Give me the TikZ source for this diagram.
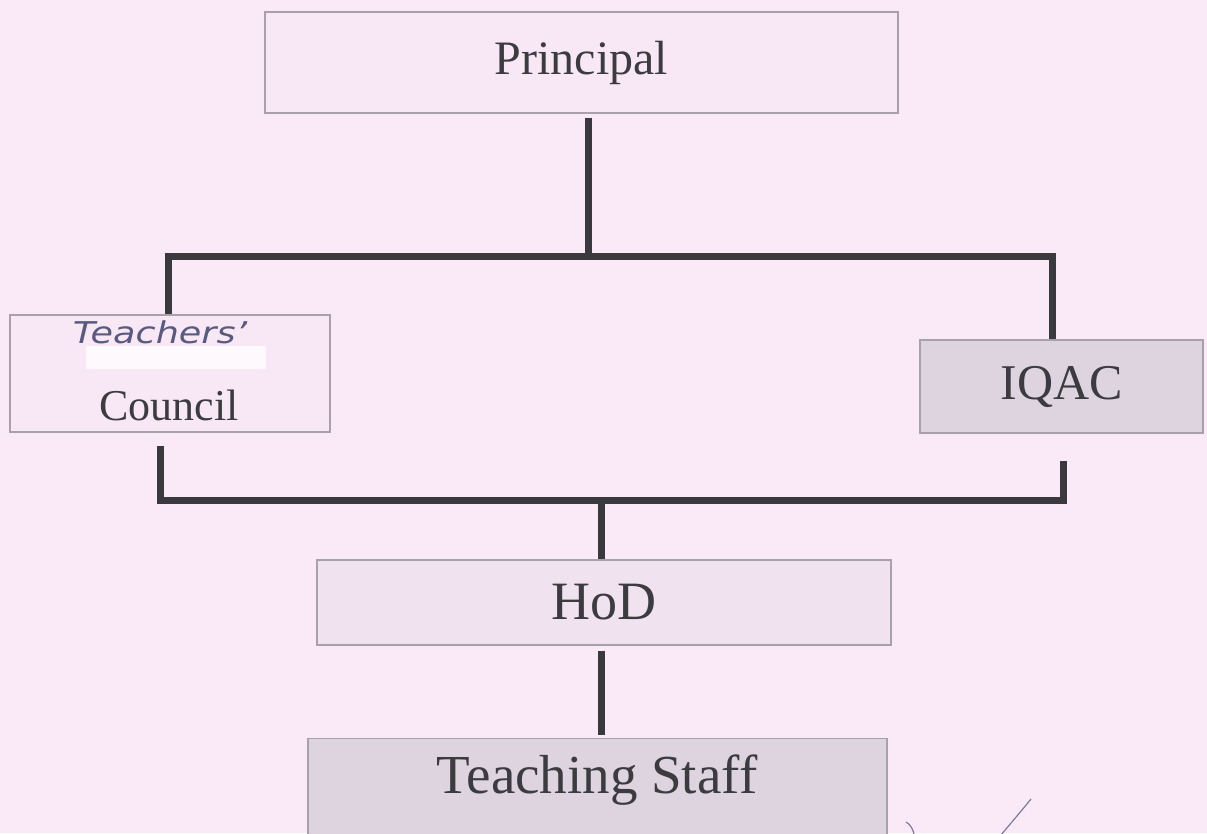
\documentclass[tikz,border=0pt]{standalone}
\usepackage{fontspec}
\setmainfont{Liberation Serif}
\newfontfamily\handfont{DejaVu Sans}
\begin{document}
\begin{tikzpicture}[x=1pt,y=-1pt,
  box/.style={draw=boxline,line width=1.3pt,inner sep=0pt,fill=boxfill,font=\fontsize{#1}{#1}\selectfont,text=textcol},
  box/.default=50,
  conn/.style={draw=connline,line width=7pt},
]
\definecolor{bg}{HTML}{FAEAF7}
\definecolor{boxfill}{HTML}{F8E8F5}
\definecolor{greyfill}{HTML}{DDD4DF}
\definecolor{hodfill}{HTML}{F1E2EF}
\definecolor{boxline}{HTML}{A8A0AA}
\definecolor{connline}{HTML}{3A3A3E}
\definecolor{textcol}{HTML}{3C3C40}
\definecolor{pen}{HTML}{5A5A80}
\useasboundingbox (0,0) rectangle (1207,833);
\fill[bg] (0,0) rectangle (1207,833);

\node[box=48,minimum width=633pt,minimum height=101pt] (P) at (581.5,62.5) {Principal};
\node[box=44,minimum width=320pt,minimum height=117pt,text depth=0pt] (T) at (170,373.5) {};
\node[font=\fontsize{44}{44}\selectfont,text=textcol] (Tc) at (169,405) {Council};
\fill[white!70!bg] (86,346) rectangle (266,369);
\node[font=\handfont\fontsize{30}{30}\selectfont\itshape,text=pen,xscale=1.22] (Tt) at (160,332) {Teachers’};
\node[box=50,fill=greyfill,minimum width=283pt,minimum height=93pt] (I) at (1061.5,386.5) {IQAC};
\node[box=54,fill=hodfill,minimum width=574pt,minimum height=85pt] (H) at (604,602.5) {HoD};
\node[box=55,fill=greyfill,minimum width=579pt,minimum height=98pt,anchor=north] (S) at (597.5,738) {};
\node[font=\fontsize{55}{55}\selectfont,text=textcol] (St) at (597,780) {Teaching Staff};

\coordinate (j1) at (588,256);
\coordinate (tl) at (168,256);
\coordinate (tr) at (1052,256);
\coordinate (bl) at (160,500);
\coordinate (br) at (1063,500);
\coordinate (j2) at (601,500);

\draw[conn,shorten <=4pt] (P.south -| j1) -- (j1);
\draw[conn] (T.north -| tl) -- (tl) -- (tr) -- (I.north -| tr);
\draw[conn,shorten <=13pt,line cap=butt] (T.south -| bl) -- (bl) -- (br) -- ([yshift=-27pt]I.south -| br);
\draw[conn] (j2) -- (H.north -| j2);
\draw[conn,shorten <=5pt,shorten >=3pt] (H.south -| j2) -- (S.north -| j2);

\draw[pen!80,line width=1.2pt] (906,822) .. controls (910,824) and (913,829) .. (914,834);
\draw[pen!80,line width=1.2pt] (1000,836) .. controls (1012,822) and (1022,810) .. (1031,799);
\end{tikzpicture}
\end{document}
